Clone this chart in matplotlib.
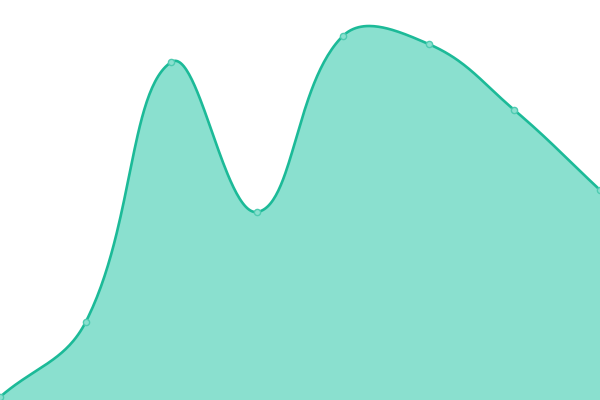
import numpy as np
import matplotlib
matplotlib.use("Agg")
import matplotlib.pyplot as plt

# --- data ---
x_idx = [0, 1, 2, 3, 4, 5, 6, 7]
values = [0, 75, 335, 185, 361, 353, 287, 207]

line_color = "#1cba98"
fill_color = "#8ae0cf"
marker_edge = "#4fcbb1"

W, H = 600, 400
Y_LO, Y_HI = -3, 397


def smooth_curve(xs, ys, tension=0.4, n=60):
    # bezier spline in pixel space: control points along (next - prev),
    # split by the lengths of the two neighbouring segments
    px = np.array(xs, dtype=float) / (len(xs) - 1) * W
    py = (np.array(ys, dtype=float) - Y_LO) / (Y_HI - Y_LO) * H
    pts = np.column_stack([px, py])
    m = len(pts)
    cp_in = pts.copy()
    cp_out = pts.copy()
    for i in range(m):
        prev = pts[max(i - 1, 0)]
        nxt = pts[min(i + 1, m - 1)]
        d01 = np.hypot(*(pts[i] - prev))
        d12 = np.hypot(*(nxt - pts[i]))
        s = d01 + d12
        s01 = d01 / s
        s12 = d12 / s
        cp_in[i] = pts[i] - tension * s01 * (nxt - prev)
        cp_out[i] = pts[i] + tension * s12 * (nxt - prev)
    t = np.linspace(0, 1, n)[:, None]
    segs = []
    for i in range(m - 1):
        b = (1 - t) ** 3 * pts[i] + 3 * (1 - t) ** 2 * t * cp_out[i] \
            + 3 * (1 - t) * t ** 2 * cp_in[i + 1] + t ** 3 * pts[i + 1]
        segs.append(b)
    b = np.vstack(segs)
    bx = b[:, 0] / W * (len(xs) - 1)
    by = b[:, 1] / H * (Y_HI - Y_LO) + Y_LO
    return bx, by


sx, sy = smooth_curve(x_idx, values)

fig = plt.figure(figsize=(6, 4), dpi=100)
ax = fig.add_axes([0, 0, 1, 1])
ax.fill_between(sx, sy, Y_LO, color=fill_color, linewidth=0)
ax.plot(sx, sy, color=line_color, linewidth=1.9, solid_capstyle="round")
ax.scatter(x_idx, values, s=20, facecolor=fill_color, edgecolor=marker_edge,
           linewidth=1, zorder=3)
ax.set_xlim(0, 7)
ax.set_ylim(Y_LO, Y_HI)
ax.axis("off")
fig.savefig("out.png", dpi=100)
